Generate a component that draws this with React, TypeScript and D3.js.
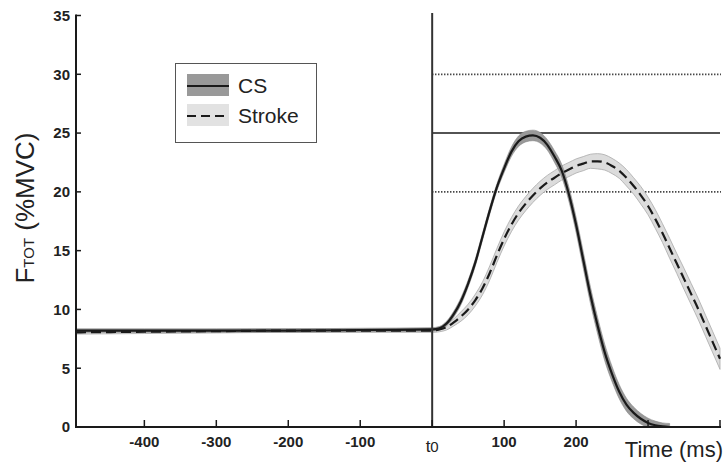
import React from 'react';
import * as d3 from 'd3';

// time (ms) and mean force (%MVC), with band half-width
const timeCS = [-495, -400, -300, -200, -100, 0, 10, 20, 30, 40, 50, 60, 70, 80, 90, 100, 110, 120, 130, 140, 150, 160, 170, 180, 190, 200, 210, 220, 230, 240, 250, 260, 270, 280, 290, 300, 310, 320, 330];
const forceCS = [8.2, 8.2, 8.2, 8.2, 8.25, 8.3, 8.4, 8.8, 9.6, 10.7, 12.2, 14.0, 16.2, 18.4, 20.4, 22.0, 23.4, 24.3, 24.7, 24.8, 24.6, 24.0, 23.0, 21.8, 19.8, 17.2, 14.2, 11.2, 8.6, 6.3, 4.5, 3.0, 1.9, 1.2, 0.7, 0.35, 0.15, 0.05, 0];
const sdCS = [0.15, 0.15, 0.15, 0.15, 0.15, 0.15, 0.15, 0.2, 0.25, 0.3, 0.3, 0.3, 0.3, 0.3, 0.3, 0.35, 0.4, 0.45, 0.45, 0.45, 0.45, 0.45, 0.5, 0.55, 0.6, 0.65, 0.7, 0.7, 0.7, 0.7, 0.65, 0.6, 0.55, 0.5, 0.45, 0.4, 0.35, 0.3, 0.3];

const timeStroke = [-495, -400, -300, -200, -100, 0, 10, 20, 30, 40, 50, 60, 70, 80, 90, 100, 110, 120, 130, 140, 150, 160, 170, 180, 190, 200, 210, 220, 230, 240, 250, 260, 270, 280, 290, 300, 310, 320, 330, 340, 350, 360, 370, 380, 390, 400];
const forceStroke = [8.05, 8.1, 8.15, 8.2, 8.2, 8.2, 8.3, 8.5, 8.9, 9.4, 10.0, 10.8, 11.8, 13.1, 14.6, 16.0, 17.2, 18.2, 19.0, 19.7, 20.3, 20.8, 21.2, 21.6, 21.9, 22.2, 22.4, 22.6, 22.6, 22.5, 22.2, 21.8, 21.2, 20.5, 19.7, 18.8, 17.7, 16.5, 15.2, 13.9, 12.6, 11.3, 10.0, 8.6, 7.2, 5.8];
const sdStroke = [0.15, 0.15, 0.15, 0.15, 0.15, 0.15, 0.2, 0.25, 0.3, 0.4, 0.45, 0.5, 0.55, 0.6, 0.6, 0.6, 0.6, 0.6, 0.6, 0.6, 0.6, 0.6, 0.6, 0.6, 0.6, 0.6, 0.6, 0.6, 0.65, 0.65, 0.65, 0.65, 0.7, 0.7, 0.75, 0.75, 0.8, 0.8, 0.85, 0.85, 0.9, 0.9, 0.9, 0.9, 0.9, 0.9];

const xTicks = [-400, -300, -200, -100, 0, 100, 200, 300, 400];
const xTickLabels = ['-400', '-300', '-200', '-100', 't0', '100', '200', '', ''];
const yTicks = [0, 5, 10, 15, 20, 25, 30, 35];
const solidRefs = [25];
const dottedRefs = [20, 30];
const legendNames = ['CS', 'Stroke'];

const W = 724;
const H = 463;

export default function App() {
  const x = d3.scaleLinear().domain([-495, 400]).range([76, 720]);
  const y = d3.scaleLinear().domain([0, 35]).range([427, 15.5]);

  const mk = (t, v, s) => t.map((d, i) => ({ t: d, v: v[i], s: s[i] }));
  const cs = mk(timeCS, forceCS, sdCS);
  const st = mk(timeStroke, forceStroke, sdStroke);

  const band = d3
    .area()
    .x((d) => x(d.t))
    .y0((d) => y(Math.max(0, d.v - d.s)))
    .y1((d) => y(d.v + d.s))
    .curve(d3.curveMonotoneX);
  const line = d3
    .line()
    .x((d) => x(d.t))
    .y((d) => y(d.v))
    .curve(d3.curveMonotoneX);

  const ink = '#1a1a1a';
  const font = 'Liberation Sans, Arial, sans-serif';
  const x0 = x(0);

  return (
    <svg width={W} height={H} style={{ position: 'absolute', left: 0, top: 0, background: '#fff' }} fontFamily={font}>
      <defs>
        <clipPath id="plot">
          <rect x={76} y={10} width={646} height={417} />
        </clipPath>
      </defs>

      {/* reference lines */}
      {solidRefs.map((v) => (
        <line key={'s' + v} x1={x0} x2={720} y1={y(v)} y2={y(v)} stroke={ink} strokeWidth={1.5} />
      ))}
      {dottedRefs.map((v) => (
        <line key={'d' + v} x1={x0} x2={721} y1={y(v)} y2={y(v)} stroke="#222" strokeWidth={1.8} strokeDasharray="1.2,1.8" />
      ))}

      <g clipPath="url(#plot)">
        <path d={band(st)} fill="#dcdcdc" stroke="#aaa" strokeWidth={0.8} />
        <path d={band(cs)} fill="#999" stroke="#888" strokeWidth={0.6} />
        <path d={line(cs)} fill="none" stroke={ink} strokeWidth={2.2} />
        <path d={line(st)} fill="none" stroke={ink} strokeWidth={2.2} strokeDasharray="10,5" />
      </g>

      {/* t0 line */}
      <line x1={x0} x2={x0} y1={13} y2={427} stroke="#333" strokeWidth={2} />

      {/* axes */}
      <line x1={76} x2={76} y1={y(35) - 1} y2={428} stroke={ink} strokeWidth={2} />
      <line x1={75} x2={721} y1={427} y2={427} stroke={ink} strokeWidth={2} />
      {yTicks.map((v) => (
        <g key={'y' + v}>
          <line x1={76} x2={81} y1={y(v)} y2={y(v)} stroke={ink} strokeWidth={1.5} />
          <text x={70} y={y(v)} dy="0.36em" textAnchor="end" fontSize={15} fontWeight="bold" fill="#222">
            {v}
          </text>
        </g>
      ))}
      {xTicks.map((v, i) => (
        <g key={'x' + v}>
          <line x1={x(v)} x2={x(v)} y1={427} y2={420} stroke={ink} strokeWidth={1.5} />
          {xTickLabels[i] === 't0' ? (
            <text x={x(v)} y={452} textAnchor="middle" fontSize={17} fill="#222">
              t<tspan fontSize={15}>0</tspan>
            </text>
          ) : (
            <text x={x(v)} y={447} textAnchor="middle" fontSize={15} fontWeight="bold" fill="#222">
              {xTickLabels[i]}
            </text>
          )}
        </g>
      ))}

      <text x={723} y={457} textAnchor="end" fontSize={22} fill="#222">
        Time (ms)
      </text>
      <text transform="translate(34,208) rotate(-90)" textAnchor="middle" fontSize={26} fill="#222">
        F<tspan fontSize={15}>TOT</tspan> (%MVC)
      </text>

      {/* legend */}
      <rect x={175.5} y={63.5} width={141} height={79} fill="#fff" stroke="#555" strokeWidth={1} />
      {legendNames.map((name, i) => (
        <g key={name} transform={`translate(0,${i * 30})`}>
          <rect x={187} y={74} width={42} height={22} fill={i === 0 ? '#999' : '#e2e2e2'} />
          <line
            x1={187}
            x2={229}
            y1={86}
            y2={86}
            stroke={ink}
            strokeWidth={2}
            strokeDasharray={i === 0 ? null : '9,5'}
          />
          <text x={238} y={93} fontSize={21} fill="#222">
            {name}
          </text>
        </g>
      ))}
    </svg>
  );
}
